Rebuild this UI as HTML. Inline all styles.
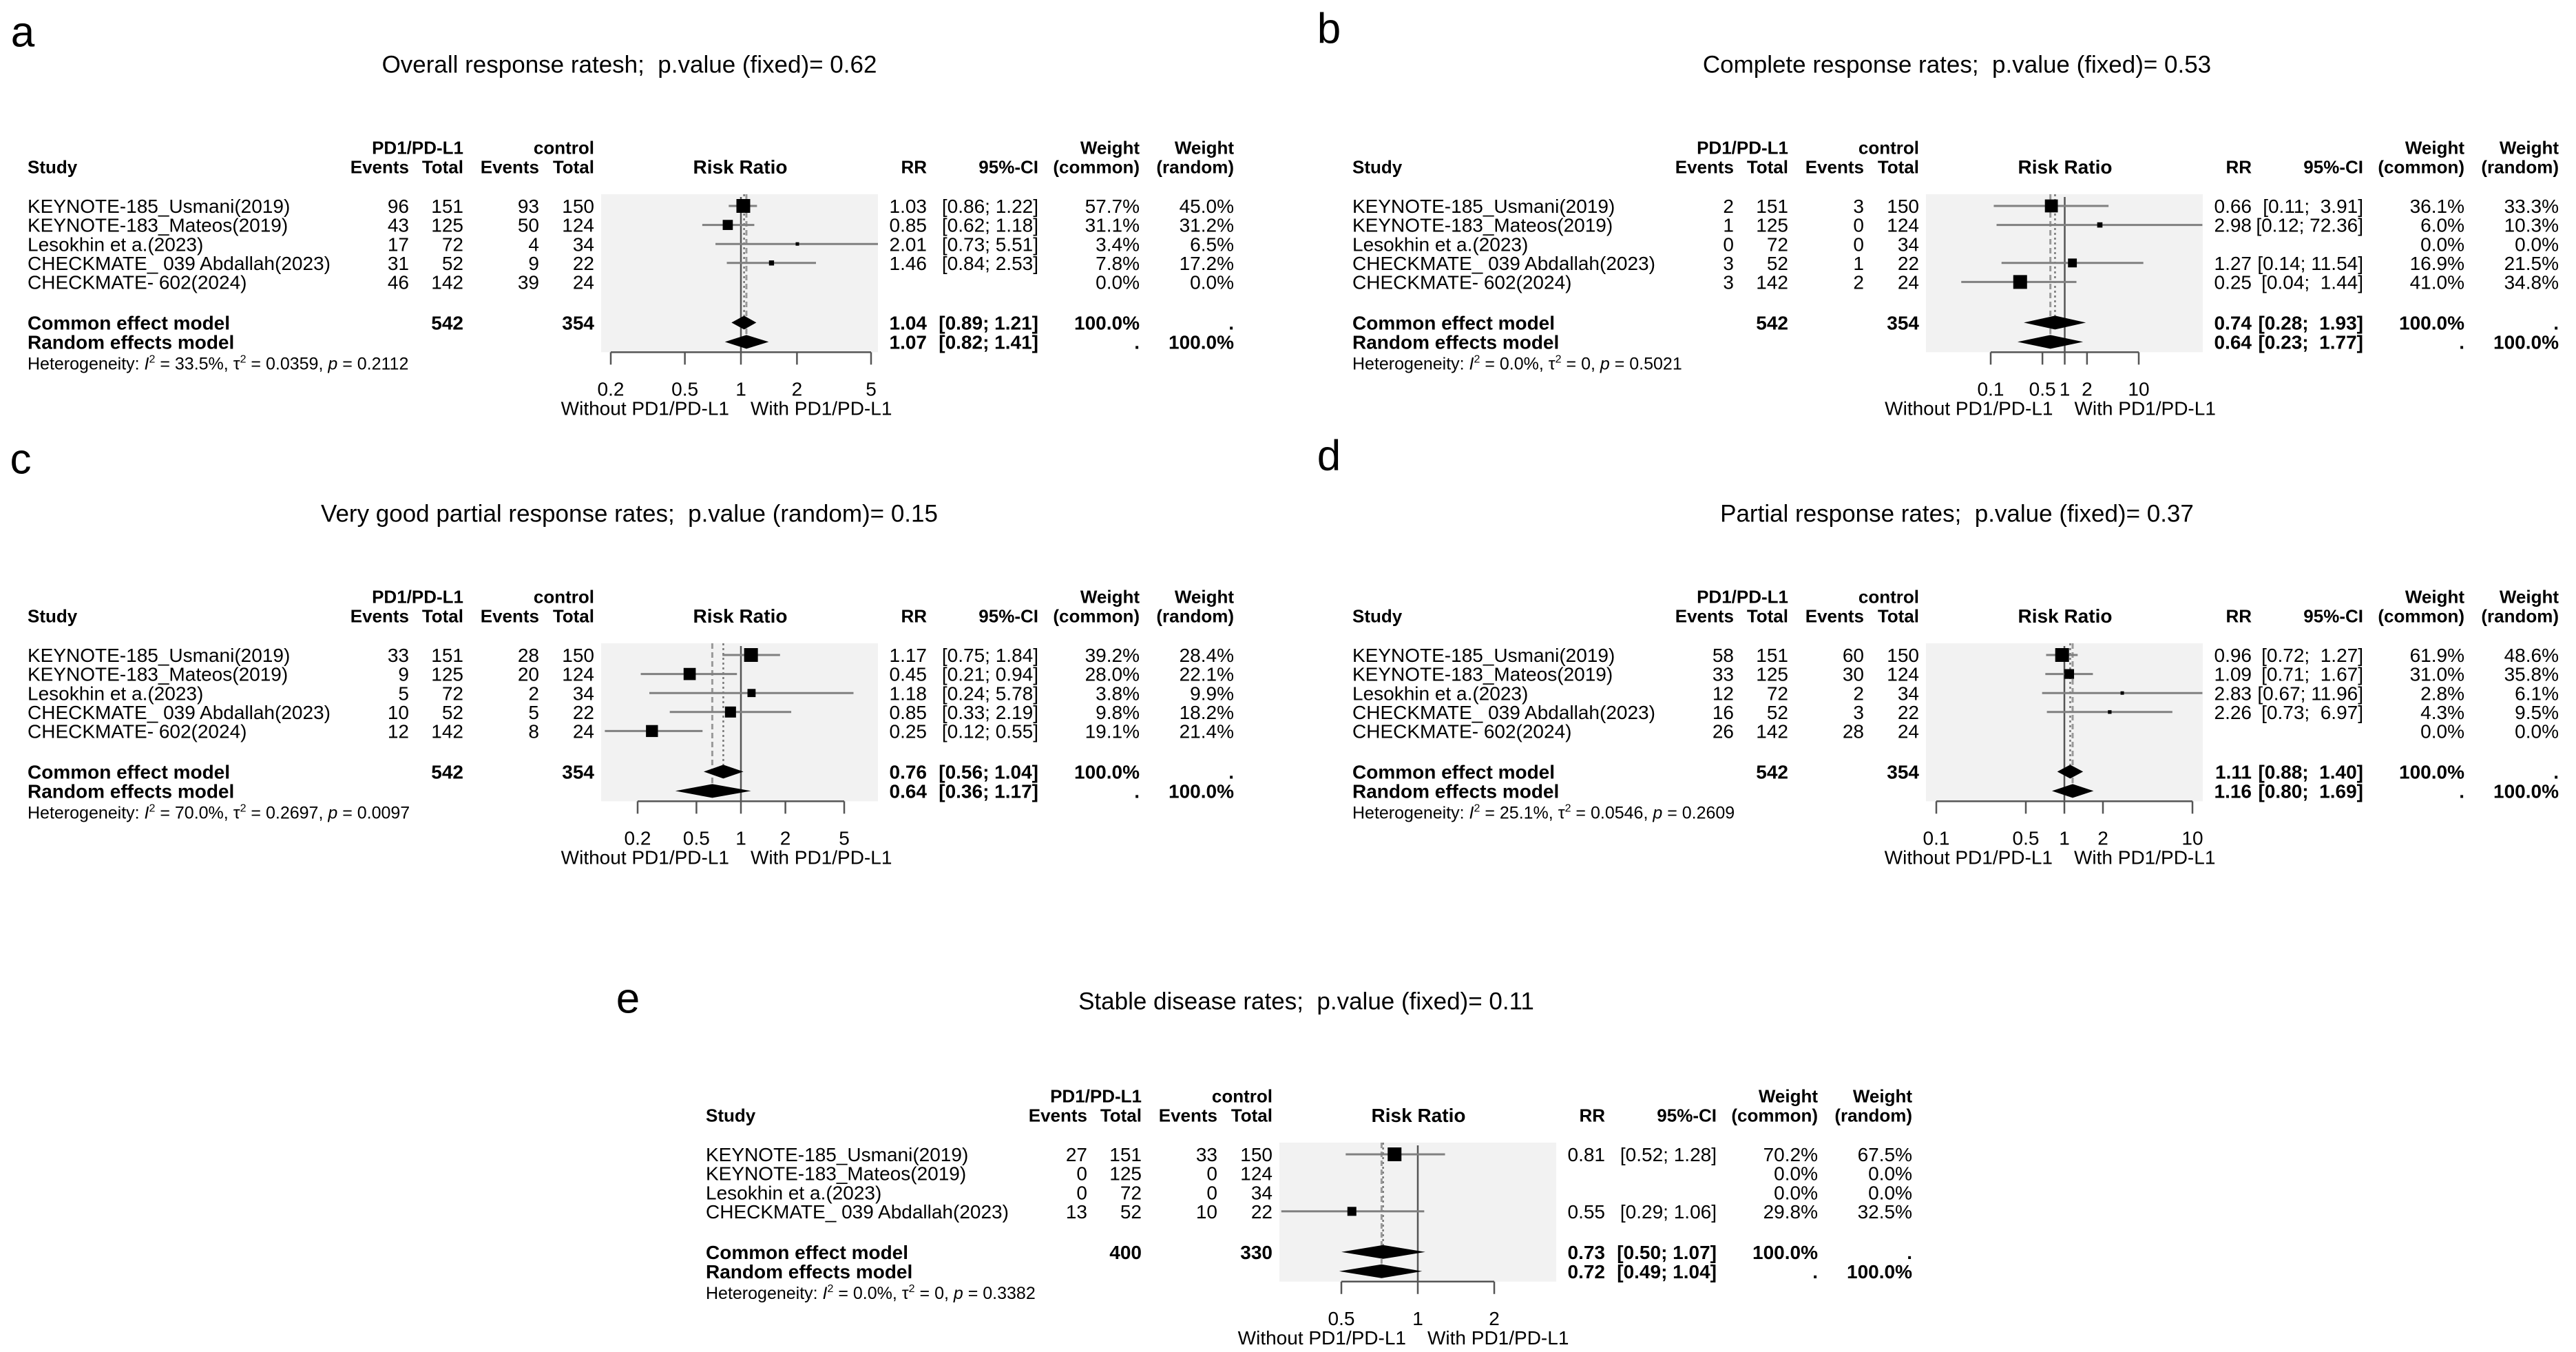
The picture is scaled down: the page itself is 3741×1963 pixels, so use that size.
<!DOCTYPE html>
<html><head><meta charset="utf-8"><title>Forest plots</title>
<style>
html,body{margin:0;padding:0;background:#fff;}
svg{display:block;font-family:"Liberation Sans",Arial,sans-serif;}
text{white-space:pre;}
</style></head>
<body>
<svg id="fig" xmlns="http://www.w3.org/2000/svg" width="3741" height="1963" viewBox="0 0 3741 1963"></svg>
<script>
// ---------- DATA ----------
const studies5 = ["KEYNOTE-185_Usmani(2019)","KEYNOTE-183_Mateos(2019)","Lesokhin et a.(2023)","CHECKMATE_ 039 Abdallah(2023)","CHECKMATE- 602(2024)"];
const studies4 = ["KEYNOTE-185_Usmani(2019)","KEYNOTE-183_Mateos(2019)","Lesokhin et a.(2023)","CHECKMATE_ 039 Abdallah(2023)"];

// panel a
const aTitle = "Overall response ratesh;  p.value (fixed)= 0.62";
const aEvT = [96,43,17,31,46], aNT = [151,125,72,52,142], aEvC = [93,50,4,9,39], aNC = [150,124,34,22,24];
const aRR = [1.03,0.85,2.01,1.46,null], aLo = [0.86,0.62,0.73,0.84,null], aHi = [1.22,1.18,5.51,2.53,null];
const aWc = [57.7,31.1,3.4,7.8,0.0], aWr = [45.0,31.2,6.5,17.2,0.0];
const aPooled = [1.04,0.89,1.21, 1.07,0.82,1.41];
const aTot = [542,354];
const aHet = ["33.5%","0.0359","0.2112"];
const aTicks = [0.2,0.5,1,2,5];

// panel b
const bTitle = "Complete response rates;  p.value (fixed)= 0.53";
const bEvT = [2,1,0,3,3], bNT = [151,125,72,52,142], bEvC = [3,0,0,1,2], bNC = [150,124,34,22,24];
const bRR = [0.66,2.98,null,1.27,0.25], bLo = [0.11,0.12,null,0.14,0.04], bHi = [3.91,72.36,null,11.54,1.44];
const bWc = [36.1,6.0,0.0,16.9,41.0], bWr = [33.3,10.3,0.0,21.5,34.8];
const bPooled = [0.74,0.28,1.93, 0.64,0.23,1.77];
const bTot = [542,354];
const bHet = ["0.0%","0","0.5021"];
const bTicks = [0.1,0.5,1,2,10];

// panel c
const cTitle = "Very good partial response rates;  p.value (random)= 0.15";
const cEvT = [33,9,5,10,12], cNT = [151,125,72,52,142], cEvC = [28,20,2,5,8], cNC = [150,124,34,22,24];
const cRR = [1.17,0.45,1.18,0.85,0.25], cLo = [0.75,0.21,0.24,0.33,0.12], cHi = [1.84,0.94,5.78,2.19,0.55];
const cWc = [39.2,28.0,3.8,9.8,19.1], cWr = [28.4,22.1,9.9,18.2,21.4];
const cPooled = [0.76,0.56,1.04, 0.64,0.36,1.17];
const cTot = [542,354];
const cHet = ["70.0%","0.2697","0.0097"];
const cTicks = [0.2,0.5,1,2,5];

// panel d
const dTitle = "Partial response rates;  p.value (fixed)= 0.37";
const dEvT = [58,33,12,16,26], dNT = [151,125,72,52,142], dEvC = [60,30,2,3,28], dNC = [150,124,34,22,24];
const dRR = [0.96,1.09,2.83,2.26,null], dLo = [0.72,0.71,0.67,0.73,null], dHi = [1.27,1.67,11.96,6.97,null];
const dWc = [61.9,31.0,2.8,4.3,0.0], dWr = [48.6,35.8,6.1,9.5,0.0];
const dPooled = [1.11,0.88,1.40, 1.16,0.80,1.69];
const dTot = [542,354];
const dHet = ["25.1%","0.0546","0.2609"];
const dTicks = [0.1,0.5,1,2,10];

// panel e
const eTitle = "Stable disease rates;  p.value (fixed)= 0.11";
const eEvT = [27,0,0,13], eNT = [151,125,72,52], eEvC = [33,0,0,10], eNC = [150,124,34,22];
const eRR = [0.81,null,null,0.55], eLo = [0.52,null,null,0.29], eHi = [1.28,null,null,1.06];
const eWc = [70.2,0.0,0.0,29.8], eWr = [67.5,0.0,0.0,32.5];
const ePooled = [0.73,0.50,1.07, 0.72,0.49,1.04];
const eTot = [400,330];
const eHet = ["0.0%","0","0.3382"];
const eTicks = [0.5,1,2];

// ---------- DRAWING ----------
const NS = "http://www.w3.org/2000/svg";
const svg = document.getElementById("fig");
function mk(tag, parent){ const el = document.createElementNS(NS, tag); parent.appendChild(el); return el; }
function txt(parent, x, y, s, anchor, size, bold, name){
  const t = mk("text", parent);
  t.setAttribute("x", x); t.setAttribute("y", y + size*0.36);
  t.setAttribute("text-anchor", anchor); t.setAttribute("font-size", size);
  if (bold) t.setAttribute("font-weight", "bold");
  t.setAttribute("fill", "#000");
  t.textContent = s;
  
  
  return t;
}
const f2 = v => v.toFixed(2);
function ciStr(lo, hi, maxLen){
  const l = f2(lo), h = f2(hi);
  const pad = " ".repeat(1 + Math.max(0, maxLen - h.length));
  return "[" + l + ";" + pad + h + "]";
}

function panel(P){
  const g = mk("g", svg);
  g.setAttribute("transform", "translate(" + P.dx + "," + P.dy + ")");
  
  
  const n = P.studies.length;
  const rowY = i => 299 + 27.6*i;
  const yCom = rowY(n-1) + 59, yRan = yCom + 28;
  const rectTop = 282, axisY = yRan + 15;
  const lmin = Math.log(P.ticks[0]), lmax = Math.log(P.ticks[P.ticks.length-1]);
  const X = v => P.px0 + (Math.log(v) - lmin) / (lmax - lmin) * (P.px1 - P.px0);
  const RX0 = 873, RX1 = 1275;
  const cl = x => Math.max(RX0, Math.min(RX1, x));
  let maxLen = 0;
  P.hi.forEach(h => { if (h !== null) maxLen = Math.max(maxLen, f2(h).length); });
  [P.pooled[2], P.pooled[5]].forEach(h => { maxLen = Math.max(maxLen, f2(h).length); });

  txt(svg, P.lx, P.ly, P.letter, "middle", 62, false, P.id + "-panel-letter");
  txt(svg, P.tx, P.ty, P.title, "middle", 35, false, P.id + "-panel-title");

  txt(g, 673, 214, "PD1/PD-L1", "end", 26, true, "treatment-group-header");
  txt(g, 863, 214, "control", "end", 26, true, "control-group-header");
  txt(g, 1655, 214, "Weight", "end", 26, true, "weight-common-header");
  txt(g, 1792, 214, "Weight", "end", 26, true, "weight-random-header");
  txt(g, 40, 242, "Study", "start", 26, true, "study-header");
  txt(g, 594, 242, "Events", "end", 26, true, "treatment-events-header");
  txt(g, 673, 242, "Total", "end", 26, true, "treatment-total-header");
  txt(g, 783, 242, "Events", "end", 26, true, "control-events-header");
  txt(g, 863, 242, "Total", "end", 26, true, "control-total-header");
  txt(g, 1075, 242, "Risk Ratio", "middle", 28, true, "risk-ratio-header");
  txt(g, 1346, 242, "RR", "end", 26, true, "rr-header");
  txt(g, 1508, 242, "95%-CI", "end", 26, true, "ci-header");
  txt(g, 1655, 242, "(common)", "end", 26, true, "weight-common-subheader");
  txt(g, 1792, 242, "(random)", "end", 26, true, "weight-random-subheader");

  const bg = mk("rect", g);
  bg.setAttribute("x", RX0); bg.setAttribute("y", rectTop);
  bg.setAttribute("width", RX1-RX0); bg.setAttribute("height", axisY-rectTop);
  bg.setAttribute("fill", "#f2f2f2");
  
  

  const ln = (x1,y1,x2,y2,col,w,dash,name) => {
    const l = mk("line", g);
    l.setAttribute("x1",x1); l.setAttribute("y1",y1); l.setAttribute("x2",x2); l.setAttribute("y2",y2);
    l.setAttribute("stroke",col); l.setAttribute("stroke-width",w);
    if (dash) l.setAttribute("stroke-dasharray", dash);
    
    
    return l;
  };
  ln(X(P.pooled[0]), rectTop, X(P.pooled[0]), yCom-10, "#777", 2.5, "3,4", "common-effect-line");
  ln(X(P.pooled[3]), rectTop, X(P.pooled[3]), yRan-11, "#999", 3, "8,5", "random-effect-line");
  ln(X(1), rectTop+4, X(1), axisY, "#555", 2.5, null, "null-effect-line");

  const wMax = Math.max(...P.wBox);
  for (let i=0;i<n;i++){
    const y = rowY(i);
    txt(g, 40, y, P.studies[i], "start", 28, false, "study-label");
    txt(g, 594, y, String(P.evT[i]), "end", 28, false, "treatment-events");
    txt(g, 673, y, String(P.nT[i]), "end", 28, false, "treatment-total");
    txt(g, 783, y, String(P.evC[i]), "end", 28, false, "control-events");
    txt(g, 863, y, String(P.nC[i]), "end", 28, false, "control-total");
    txt(g, 1655, y, P.wc[i].toFixed(1) + "%", "end", 28, false, "weight-common");
    txt(g, 1792, y, P.wr[i].toFixed(1) + "%", "end", 28, false, "weight-random");
    if (P.rr[i] !== null){
      txt(g, 1346, y, f2(P.rr[i]), "end", 28, false, "rr-value");
      txt(g, 1508, y, ciStr(P.lo[i], P.hi[i], maxLen), "end", 28, false, "ci-value");
      ln(cl(X(P.lo[i])), y, cl(X(P.hi[i])), y, "#808080", 3, null, "study-ci-line");
      const s = Math.max(5, 20*Math.sqrt(P.wBox[i]/wMax));
      const sq = mk("rect", g);
      sq.setAttribute("x", X(P.rr[i]) - s/2); sq.setAttribute("y", y - s/2);
      sq.setAttribute("width", s); sq.setAttribute("height", s); sq.setAttribute("fill", "#000");
      
      
    }
  }
  const rows = [[yCom,"Common effect model",0,"100.0%","."],[yRan,"Random effects model",3,".","100.0%"]];
  rows.forEach((r,k) => {
    const y = r[0], o = r[2];
    txt(g, 40, y, r[1], "start", 28, true, k ? "random-model-label" : "common-model-label");
    if (k===0){
      txt(g, 673, y, String(P.tot[0]), "end", 28, true, "treatment-total-sum");
      txt(g, 863, y, String(P.tot[1]), "end", 28, true, "control-total-sum");
    }
    txt(g, 1346, y, f2(P.pooled[o]), "end", 28, true, "pooled-rr");
    txt(g, 1508, y, ciStr(P.pooled[o+1], P.pooled[o+2], maxLen), "end", 28, true, "pooled-ci");
    txt(g, 1655, y, r[3], "end", 28, true, "pooled-weight-common");
    txt(g, 1792, y, r[4], "end", 28, true, "pooled-weight-random");
    const d = mk("polygon", g);
    const h = 10;
    d.setAttribute("points", [X(P.pooled[o+1])+","+y, X(P.pooled[o])+","+(y-h), X(P.pooled[o+2])+","+y, X(P.pooled[o])+","+(y+h)].join(" "));
    d.setAttribute("fill", "#000");
    
    
  });

  const ht = mk("text", g);
  ht.setAttribute("x", 40); ht.setAttribute("y", axisY + 16 + 9); ht.setAttribute("font-size", 25);
  
  
  const parts = [["Heterogeneity: ",0],["I",1],["2",2],[" = " + P.het[0] + ", ",0],["\u03c4",0],["2",2],[" = " + P.het[1] + ", ",0],["p",1],[" = " + P.het[2],0]];
  parts.forEach(p => {
    const ts = mk("tspan", ht);
    ts.textContent = p[0];
    if (p[1]===1) ts.setAttribute("font-style","italic");
    if (p[1]===2){ ts.setAttribute("font-size", 16); ts.setAttribute("dy", -10); }
    else if (ts.previousSibling && ts.previousSibling.getAttribute("dy")==="-10") ts.setAttribute("dy", 10);
  });

  ln(P.px0, axisY, P.px1, axisY, "#555", 2.5, null, "x-axis-line");
  P.ticks.forEach(t => {
    ln(X(t), axisY, X(t), axisY+18, "#555", 2.5, null, "x-axis-tick");
    txt(g, X(t), axisY+53, String(t), "middle", 28, false, "x-tick-label");
  });
  txt(g, X(1)-17, axisY+81, "Without PD1/PD-L1", "end", 28, false, "favours-control-label");
  txt(g, X(1)+14, axisY+81, "With PD1/PD-L1", "start", 28, false, "favours-treatment-label");
}

panel({id:"a", letter:"a", lx:33, ly:45, tx:914, ty:93, title:aTitle, dx:0, dy:0, studies:studies5,
  evT:aEvT,nT:aNT,evC:aEvC,nC:aNC,rr:aRR,lo:aLo,hi:aHi,wc:aWc,wr:aWr,wBox:aWc,pooled:aPooled,tot:aTot,het:aHet,ticks:aTicks,px0:887,px1:1265});
panel({id:"b", letter:"b", lx:1930, ly:40, tx:2842, ty:93, title:bTitle, dx:1924, dy:0, studies:studies5,
  evT:bEvT,nT:bNT,evC:bEvC,nC:bNC,rr:bRR,lo:bLo,hi:bHi,wc:bWc,wr:bWr,wBox:bWc,pooled:bPooled,tot:bTot,het:bHet,ticks:bTicks,px0:967,px1:1182});
panel({id:"c", letter:"c", lx:30, ly:665, tx:914, ty:745, title:cTitle, dx:0, dy:652, studies:studies5,
  evT:cEvT,nT:cNT,evC:cEvC,nC:cNC,rr:cRR,lo:cLo,hi:cHi,wc:cWc,wr:cWr,wBox:cWr,pooled:cPooled,tot:cTot,het:cHet,ticks:cTicks,px0:926,px1:1226});
panel({id:"d", letter:"d", lx:1930, ly:660, tx:2842, ty:745, title:dTitle, dx:1924, dy:652, studies:studies5,
  evT:dEvT,nT:dNT,evC:dEvC,nC:dNC,rr:dRR,lo:dLo,hi:dHi,wc:dWc,wr:dWr,wBox:dWc,pooled:dPooled,tot:dTot,het:dHet,ticks:dTicks,px0:888,px1:1260});
panel({id:"e", letter:"e", lx:912, ly:1448, tx:1897, ty:1453, title:eTitle, dx:985, dy:1377, studies:studies4,
  evT:eEvT,nT:eNT,evC:eEvC,nC:eNC,rr:eRR,lo:eLo,hi:eHi,wc:eWc,wr:eWr,wBox:eWc,pooled:ePooled,tot:eTot,het:eHet,ticks:eTicks,px0:963,px1:1185});
</script>
</body></html>
